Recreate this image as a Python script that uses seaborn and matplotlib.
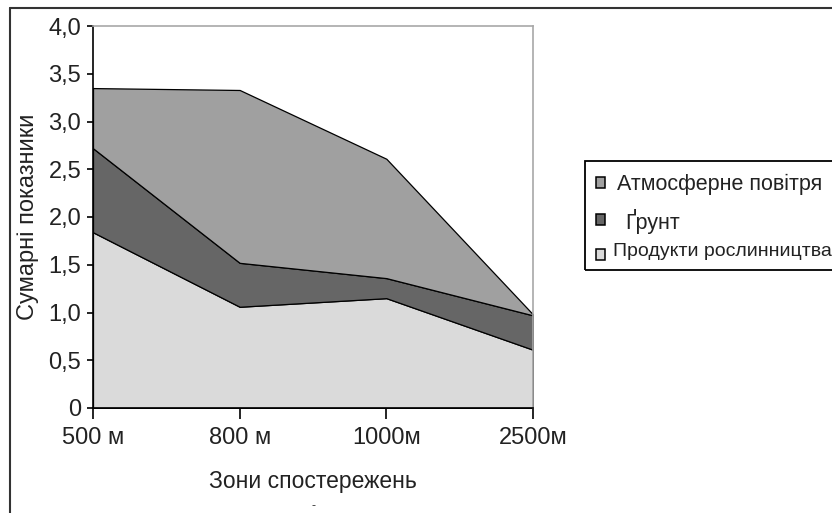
import matplotlib
matplotlib.use("Agg")
import matplotlib.pyplot as plt
import seaborn as sns
import numpy as np
from matplotlib.patches import Rectangle
from matplotlib.lines import Line2D

sns.set_style("white")
plt.rcParams['font.family'] = ['Liberation Sans', 'DejaVu Sans']

# Data
zones = ["500 м", "800 м", "1000м", "2500м"]
products = [1.84, 1.06, 1.15, 0.61]      # Продукти рослинництва
soil = [0.88, 0.46, 0.21, 0.36]          # Ґрунт
air = [0.63, 1.81, 1.25, 0.01]           # Атмосферне повітря
series_labels = ["Атмосферне повітря", "Ґрунт", "Продукти рослинництва"]
y_ticks = [0, 0.5, 1.0, 1.5, 2.0, 2.5, 3.0, 3.5, 4.0]
y_tick_labels = ["0", "0,5", "1,0", "1,5", "2,0", "2,5", "3,0", "3,5", "4,0"]

c_products = "#dadada"
c_soil = "#666666"
c_air = "#a0a0a0"

W, H = 832, 513
fig = plt.figure(figsize=(W/100, H/100), dpi=100)
ax = fig.add_axes([93/W, 1-408/H, (533-93)/W, (408-26)/H])

x = np.arange(len(zones))
ax.stackplot(x, products, soil, air, colors=[c_products, c_soil, c_air],
             edgecolor="black", linewidth=0.9)

ax.set_xlim(0, len(zones)-1)
ax.set_ylim(0, 4.0)
ax.set_xticks(x)
ax.set_xticklabels(zones, fontsize=17)
ax.set_yticks(y_ticks)
ax.set_yticklabels(y_tick_labels, fontsize=17)
ax.tick_params(axis="x", direction="out", length=8, width=1.2, color="black",
               bottom=True, pad=6, labelcolor="#222222")
ax.tick_params(axis="y", direction="out", length=4.5, width=1.2, color="black",
               left=True, pad=4, labelcolor="#222222")
ax.set_xlabel("Зони спостережень", fontsize=16.5, labelpad=15, color="#222222")
ax.set_ylabel("Сумарні показники", fontsize=17, labelpad=7, color="#222222")

for s in ["left", "bottom"]:
    ax.spines[s].set_color("black")
    ax.spines[s].set_linewidth(1.2)
for s in ["top", "right"]:
    ax.spines[s].set_color("#a8a8a8")
    ax.spines[s].set_linewidth(1.2)

# legend (drawn in figure pixel coordinates)
def fx(px):
    return px / W

def fy(py):
    return 1 - py / H

fig.add_artist(Rectangle((fx(585), fy(270)), fx(400), (270-161)/H,
                         facecolor="none", edgecolor="black", linewidth=1.3))
leg_colors = [c_air, c_soil, c_products]
marker_y = [182.5, 219, 254.5]
text_x = [617, 625, 613]
text_y = [182, 219, 249]
text_size = [15.5, 15.5, 14]
for col, my, tx, ty, lab, fs in zip(leg_colors, marker_y, text_x, text_y,
                                    series_labels, text_size):
    fig.add_artist(Rectangle((fx(595.5), fy(my + 5.5)), 9/W, 11/H,
                             facecolor=col, edgecolor="black", linewidth=1.1))
    fig.text(fx(tx), fy(ty), lab, ha="left", va="center_baseline",
             fontsize=fs, color="#222222")

# outer frame
fig.add_artist(Line2D([fx(10), 1], [fy(8), fy(8)], color="#333333", linewidth=1.5))
fig.add_artist(Line2D([fx(10), fx(10)], [0, fy(8)], color="#333333", linewidth=1.5))
fig.text(fx(313), fy(506), "-", ha="center", va="center", fontsize=9, color="#333333")

fig.savefig("out.png", dpi=100)
